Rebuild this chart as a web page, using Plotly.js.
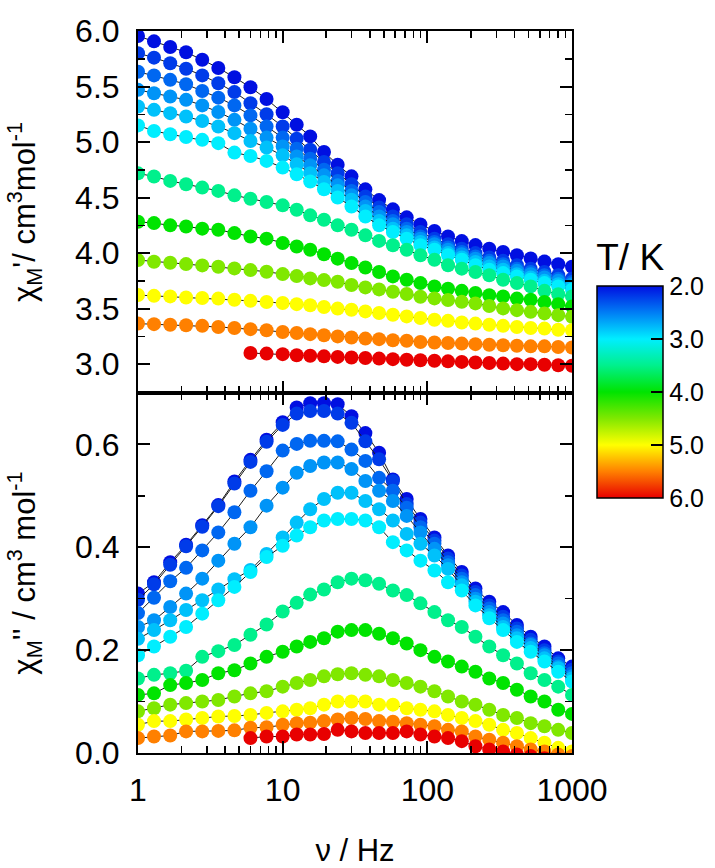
<!DOCTYPE html>
<html><head><meta charset="utf-8">
<script src="https://cdn.plot.ly/plotly-3.0.1.min.js"></script>
<style>body{margin:0;background:#fff}</style>
</head><body>
<div id="chart" style="width:715px;height:868px"></div>
<script>
// Frequencies (Hz)
const freq = [1, 1.29, 1.67, 2.15, 2.78, 3.59, 4.64, 5.99, 7.74, 10, 12.5, 15.5, 19.3, 24.0, 29.9, 37.3, 46.4, 57.8, 72.0, 89.6, 112, 139, 173, 215, 268, 334, 416, 518, 645, 803, 1000];
// Temperatures (K)
const temps = [2.0, 2.2, 2.4, 2.6, 2.8, 3.0, 3.5, 4.0, 4.5, 5.0, 5.5, 6.0];
// Colour bar ticks
const cbTickVals = [2.0, 3.0, 4.0, 5.0, 6.0];
const cbTickText = ['2.0', '3.0', '4.0', '5.0', '6.0'];
const xTickVals = [1, 10, 100, 1000];
const xTickText = ['1', '10', '100', '1000'];
const xMinorVals = [2,3,4,5,6,7,8,9,20,30,40,50,60,70,80,90,200,300,400,500,600,700,800,900];

// chi_M' (cm3 mol-1)
const re_2_0 = [5.955,5.907,5.856,5.808,5.741,5.667,5.583,5.493,5.387,5.268,5.156,5.051,4.910,4.796,4.691,4.574,4.477,4.394,4.322,4.258,4.200,4.150,4.108,4.072,4.040,4.010,3.980,3.951,3.924,3.899,3.877];
const re_2_2 = [5.80,5.76,5.71,5.66,5.60,5.53,5.45,5.35,5.25,5.14,5.03,4.93,4.82,4.72,4.62,4.51,4.41,4.33,4.26,4.19,4.13,4.08,4.04,4.00,3.96,3.93,3.89,3.86,3.83,3.80,3.77];
const re_2_4 = [5.633,5.60,5.56,5.52,5.46,5.40,5.33,5.24,5.14,5.04,4.94,4.85,4.75,4.65,4.56,4.46,4.37,4.29,4.22,4.15,4.10,4.05,4.01,3.97,3.93,3.90,3.86,3.83,3.80,3.77,3.74];
const re_2_6 = [5.47,5.44,5.41,5.38,5.33,5.27,5.20,5.12,5.04,4.96,4.87,4.79,4.70,4.61,4.52,4.42,4.33,4.26,4.19,4.13,4.08,4.03,3.99,3.95,3.91,3.88,3.84,3.81,3.78,3.75,3.72];
const re_2_8 = [5.32,5.29,5.26,5.23,5.19,5.14,5.08,5.01,4.95,4.88,4.80,4.72,4.64,4.56,4.48,4.38,4.29,4.22,4.16,4.10,4.05,4.00,3.96,3.92,3.88,3.85,3.81,3.78,3.75,3.72,3.70];
const re_3_0 = [5.15,5.10,5.07,5.045,5.02,4.99,4.905,4.875,4.83,4.77,4.71,4.645,4.575,4.50,4.42,4.33,4.25,4.19,4.13,4.07,4.03,3.98,3.94,3.89,3.85,3.82,3.79,3.76,3.73,3.70,3.67];
const re_3_5 = [4.718,4.69,4.65,4.62,4.59,4.56,4.52,4.49,4.46,4.43,4.39,4.34,4.30,4.25,4.21,4.16,4.11,4.07,4.03,3.98,3.94,3.89,3.86,3.83,3.80,3.76,3.73,3.70,3.66,3.63,3.61];
const re_4_0 = [4.282,4.27,4.25,4.24,4.22,4.21,4.18,4.15,4.13,4.09,4.06,4.03,3.99,3.95,3.91,3.87,3.83,3.79,3.76,3.73,3.70,3.68,3.66,3.64,3.62,3.61,3.59,3.58,3.56,3.54,3.52];
const re_4_5 = [3.937,3.922,3.913,3.901,3.889,3.877,3.862,3.847,3.832,3.811,3.793,3.772,3.757,3.742,3.712,3.691,3.673,3.652,3.631,3.607,3.592,3.577,3.561,3.547,3.523,3.502,3.486,3.471,3.457,3.441,3.426];
const re_5_0 = [3.622,3.615,3.61,3.60,3.595,3.59,3.58,3.57,3.56,3.55,3.54,3.53,3.515,3.50,3.49,3.475,3.46,3.445,3.43,3.415,3.40,3.39,3.375,3.365,3.355,3.345,3.335,3.325,3.32,3.31,3.305];
const re_5_5 = [3.365,3.36,3.355,3.35,3.345,3.335,3.325,3.315,3.305,3.29,3.28,3.27,3.26,3.25,3.24,3.23,3.225,3.215,3.21,3.20,3.195,3.19,3.185,3.18,3.175,3.17,3.165,3.16,3.16,3.155,3.15];
const re_6_0 = [null,null,null,null,null,null,null,3.10,3.095,3.09,3.08,3.075,3.07,3.065,3.06,3.055,3.05,3.045,3.04,3.035,3.03,3.025,3.02,3.015,3.01,3.005,3.0,3.0,2.995,2.99,2.985];

// chi_M'' (cm3 mol-1)
const im_2_0 = [0.310,0.332,0.371,0.405,0.443,0.482,0.528,0.570,0.609,0.643,0.672,0.680,0.680,0.678,0.655,0.622,0.584,0.532,0.494,0.455,0.419,0.384,0.352,0.320,0.294,0.274,0.249,0.226,0.207,0.184,0.168];
const im_2_2 = [0.298,0.328,0.366,0.402,0.440,0.480,0.524,0.566,0.605,0.638,0.660,0.665,0.665,0.660,0.642,0.606,0.571,0.529,0.484,0.448,0.413,0.378,0.345,0.313,0.287,0.265,0.242,0.220,0.200,0.178,0.162];
const im_2_4 = [0.272,0.302,0.334,0.360,0.394,0.429,0.468,0.510,0.548,0.588,0.601,0.607,0.607,0.606,0.590,0.568,0.535,0.510,0.477,0.439,0.407,0.371,0.339,0.307,0.281,0.258,0.236,0.213,0.194,0.174,0.155];
const im_2_6 = [0.245,0.258,0.284,0.310,0.339,0.374,0.407,0.439,0.481,0.516,0.545,0.558,0.565,0.565,0.552,0.529,0.510,0.490,0.461,0.429,0.397,0.365,0.332,0.300,0.274,0.252,0.229,0.210,0.190,0.168,0.149];
const im_2_8 = [0.222,0.239,0.258,0.278,0.297,0.318,0.338,0.356,0.387,0.419,0.448,0.474,0.494,0.506,0.506,0.490,0.474,0.452,0.426,0.407,0.384,0.358,0.326,0.294,0.268,0.245,0.223,0.204,0.184,0.165,0.145];
const im_3_0 = [0.190,0.207,0.226,0.245,0.271,0.297,0.323,0.352,0.381,0.403,0.423,0.439,0.452,0.455,0.455,0.452,0.439,0.410,0.394,0.374,0.355,0.332,0.316,0.287,0.262,0.239,0.216,0.197,0.178,0.158,0.139];
const im_3_5 = [0.145,0.152,0.155,0.160,0.187,0.198,0.210,0.230,0.250,0.275,0.292,0.308,0.318,0.332,0.339,0.336,0.329,0.316,0.307,0.291,0.274,0.258,0.245,0.226,0.207,0.190,0.174,0.155,0.142,0.129,0.113];
const im_4_0 = [0.113,0.116,0.132,0.136,0.142,0.155,0.161,0.174,0.187,0.197,0.207,0.216,0.223,0.236,0.239,0.239,0.232,0.223,0.213,0.200,0.187,0.178,0.168,0.158,0.145,0.136,0.123,0.110,0.100,0.084,0.076];
const im_4_5 = [0.081,0.087,0.094,0.097,0.100,0.103,0.110,0.116,0.120,0.129,0.136,0.142,0.149,0.153,0.155,0.152,0.149,0.142,0.136,0.129,0.120,0.110,0.100,0.094,0.084,0.074,0.068,0.058,0.052,0.045,0.039];
const im_5_0 = [0.055,0.062,0.062,0.065,0.068,0.071,0.072,0.074,0.078,0.081,0.084,0.087,0.094,0.100,0.100,0.100,0.094,0.094,0.087,0.084,0.081,0.074,0.068,0.062,0.055,0.045,0.039,0.029,0.020,0.010,0.003];
const im_5_5 = [0.029,0.032,0.034,0.042,0.042,0.043,0.044,0.049,0.050,0.055,0.058,0.059,0.062,0.065,0.068,0.066,0.062,0.061,0.058,0.055,0.052,0.045,0.042,0.032,0.026,0.020,0.013,0.007,0.003,-0.003,-0.006];
const im_6_0 = [null,null,null,null,null,null,null,0.029,0.032,0.032,0.036,0.036,0.037,0.045,0.042,0.039,0.039,0.039,0.042,0.036,0.032,0.029,0.023,0.013,0.007,0.003,-0.003,-0.006,-0.010,-0.012,-0.014];

const realSeries = [re_2_0, re_2_2, re_2_4, re_2_6, re_2_8, re_3_0, re_3_5, re_4_0, re_4_5, re_5_0, re_5_5, re_6_0];
const imagSeries = [im_2_0, im_2_2, im_2_4, im_2_6, im_2_8, im_3_0, im_3_5, im_4_0, im_4_5, im_5_0, im_5_5, im_6_0];

// colour scale on -T so that 2.0 K sits at the top of the colour bar
const jet = [
  [0, 'rgb(232,0,0)'], [0.125, 'rgb(255,128,0)'], [0.25, 'rgb(255,255,0)'],
  [0.375, 'rgb(128,232,0)'], [0.5, 'rgb(0,228,0)'], [0.625, 'rgb(0,240,140)'],
  [0.75, 'rgb(0,238,255)'], [0.875, 'rgb(0,125,245)'], [1, 'rgb(0,15,225)']
];

const traces = [];
temps.forEach((T, k) => {
  const col = freq.map(() => -T);
  const common = {
    x: freq, mode: 'lines+markers', showlegend: false, hoverinfo: 'skip',
    line: {color: '#1a1a1a', width: 1},
    marker: {size: 14, color: col, coloraxis: 'coloraxis', line: {width: 0}}
  };
  traces.push(Object.assign({}, common, {y: realSeries[k], xaxis: 'x2', yaxis: 'y2'}));
  traces.push(Object.assign({}, common, {y: imagSeries[k], xaxis: 'x', yaxis: 'y'}));
});

const FAM = 'Liberation Sans, Arial, sans-serif';
const tickFont = {family: FAM, size: 32, color: '#000'};
const titleFont = {family: FAM, size: 31, color: '#000'};
const xCommon = {
  type: 'log', range: [0, 3], showline: true, mirror: 'ticks', linecolor: '#000', linewidth: 2,
  ticks: 'inside', ticklen: 12, tickwidth: 2, tickcolor: '#000',
  tickvals: xTickVals, ticktext: xTickText,
  minor: {ticks: 'inside', ticklen: 7, tickwidth: 1.5, tickcolor: '#000', tickvals: xMinorVals, showgrid: false},
  showgrid: false, zeroline: false, tickfont: tickFont, automargin: false
};
const split = 0.4986;
const layout = {
  width: 715, height: 868,
  margin: {l: 138, r: 143, t: 31, b: 115, autoexpand: false},
  paper_bgcolor: '#fff', plot_bgcolor: '#fff',
  font: tickFont, showlegend: false,
  xaxis: Object.assign({}, xCommon, {anchor: 'y', ticklabelstandoff: 8, title: {text: 'ν / Hz', font: titleFont, standoff: 34}}),
  xaxis2: Object.assign({}, xCommon, {anchor: 'y2', matches: 'x', showticklabels: false}),
  yaxis: {
    domain: [0, split], range: [0, 0.7], tick0: 0, dtick: 0.2, tickformat: '.1f',
    showline: true, mirror: 'ticks', linecolor: '#000', linewidth: 2,
    ticks: 'inside', ticklen: 12, tickwidth: 2, tickcolor: '#000', ticklabelstandoff: 10,
    minor: {ticks: 'inside', ticklen: 7, tickwidth: 1.5, tickcolor: '#000', dtick: 0.1, tick0: 0, showgrid: false},
    showgrid: false, zeroline: false, tickfont: tickFont, anchor: 'x', automargin: false,
    title: {text: "χ<sub>M</sub>'' / cm<sup>3</sup> mol<sup>-1</sup>", font: titleFont, standoff: 30}
  },
  yaxis2: {
    domain: [split, 1], range: [2.74, 6.0], tick0: 3, dtick: 0.5, tickformat: '.1f',
    showline: true, mirror: 'ticks', linecolor: '#000', linewidth: 2,
    ticks: 'inside', ticklen: 12, tickwidth: 2, tickcolor: '#000', ticklabelstandoff: 10,
    minor: {ticks: 'inside', ticklen: 7, tickwidth: 1.5, tickcolor: '#000', dtick: 0.25, tick0: 3, showgrid: false},
    showgrid: false, zeroline: false, tickfont: tickFont, anchor: 'x2', automargin: false,
    title: {text: "χ<sub>M</sub>'/ cm<sup>3</sup>mol<sup>-1</sup>", font: titleFont, standoff: 30}
  },
  coloraxis: {
    cmin: -6, cmax: -2, colorscale: jet,
    colorbar: {
      thickness: 66, thicknessmode: 'pixels', len: 258, lenmode: 'pixels',
      x: 1.0576, xanchor: 'left', xpad: 0, y: 0.3532, yanchor: 'bottom', ypad: 0,
      outlinewidth: 1.5, outlinecolor: '#000',
      tickvals: cbTickVals.map(v => -v), ticktext: cbTickText,
      ticks: 'inside', ticklen: 12, tickwidth: 2, tickcolor: '#000',
      tickfont: {family: FAM, size: 25, color: '#000'},
      title: {text: 'T/ K', side: 'top', font: {family: FAM, size: 37, color: '#000'}}
    }
  }
};

Plotly.newPlot('chart', traces, layout, {staticPlot: true, displayModeBar: false});
</script>
</body></html>
